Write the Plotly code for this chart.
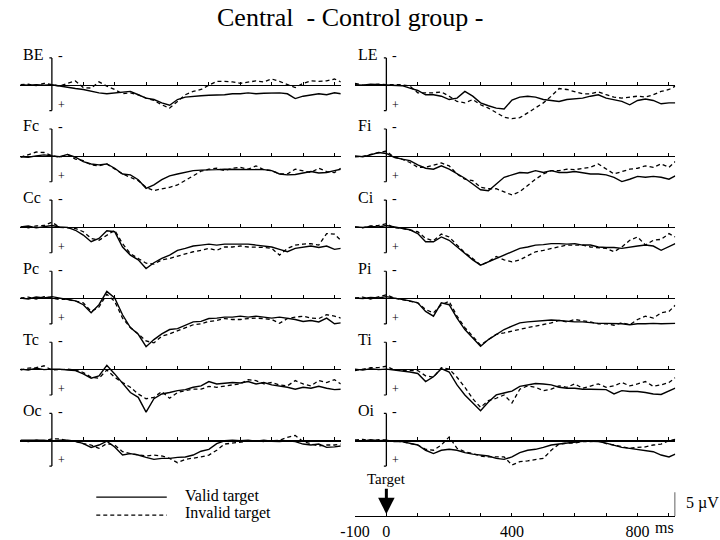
import plotly.graph_objects as go

# ---------------- data (µV, positive plotted downward) ----------------
times = list(range(-100, 901, 25)) + [920]

left_labels = ["BE", "Fc", "Cc", "Pc", "Tc", "Oc"]
right_labels = ["LE", "Fi", "Ci", "Pi", "Ti", "Oi"]

be_valid = [0,0.1,0,0.1,0,0.3,0.6,0.8,1.0,1.4,1.7,1.9,1.7,1.5,1.4,2.1,2.8,3.1,3.8,4.3,3.1,2.6,2.4,2.3,2.2,2.2,2.1,1.9,1.9,1.7,1.9,1.8,1.7,1.7,1.9,2.9,2.4,2.2,1.9,2.1,1.7,1.9]
be_invalid = [0,-0.1,0.2,-0.3,0,0.3,-0.3,-0.8,0.6,0.7,-0.6,0.3,1.0,1.9,1.7,2.1,2.8,3.3,4.2,4.9,3.5,2.1,1.4,1.0,0.1,-0.7,-0.7,-0.6,-0.3,-0.6,-0.8,-0.6,-1.2,-0.7,0,0.6,-0.3,-0.8,-0.7,-0.8,-1.2,-0.6]
fc_valid = [0.2,0.3,0,-0.2,0,0.2,-0.3,0.3,1.2,1.7,1.9,1.7,2.6,3.8,4.0,5.0,6.8,6.1,5.0,4.2,3.8,3.5,3.1,3.0,3.0,2.9,2.8,2.8,2.8,2.9,2.9,2.9,3.1,3.8,4.0,3.9,3.6,3.3,3.6,3.5,3.1,2.8]
fc_invalid = [0.3,-0.2,-0.8,-0.7,0,0.3,-0.3,0.7,1.0,1.9,2.1,1.7,2.8,3.8,4.5,5.2,6.6,7.3,6.9,6.6,6.1,5.2,4.2,3.2,2.8,2.6,3.1,2.6,2.4,2.8,2.1,2.9,3.1,3.8,3.8,2.8,3.1,3.5,2.6,3.3,3.5,2.6]
cc_valid = [0,-0.2,0.2,0,-0.3,0,0.1,0.7,1.7,3.1,2.4,0.8,1.0,4.2,5.9,6.9,8.7,7.5,6.6,5.9,4.9,4.5,4.0,3.8,3.6,3.8,3.6,3.6,3.6,3.6,3.8,4.0,4.2,4.7,5.2,4.5,4.3,4.0,4.3,4.0,4.7,4.5]
cc_invalid = [0,0.2,-0.2,-0.3,-1.0,0.1,0.2,0.3,1.0,2.4,2.8,1.7,0.7,3.5,5.6,6.6,7.6,7.8,6.9,6.6,6.1,5.6,5.2,4.9,4.5,4.9,4.2,4.2,4.0,4.2,4.2,4.3,4.5,5.9,4.5,3.8,3.6,3.5,3.8,1.4,1.5,2.8]
pc_valid = [0,0.2,-0.2,0,-0.3,0,0.2,0.6,1.4,3.1,1.4,-1.4,0,3.5,6.2,7.6,10.2,8.7,7.5,6.6,6.4,5.7,5.0,4.9,4.3,4.2,4.0,4.0,3.8,4.0,3.8,4.0,4.2,4.0,4.2,4.5,4.9,4.7,5.0,4.2,5.4,5.2]
pc_invalid = [0,-0.2,0.2,-0.3,0,0.3,0.3,0.6,1.0,2.8,1.9,-0.8,0.7,4.2,6.2,7.5,9.0,9.4,8.0,7.5,6.9,6.2,5.6,5.4,4.9,4.7,4.3,4.5,4.5,4.3,4.2,4.3,4.5,5.3,4.3,4.0,3.8,4.2,4.3,3.5,3.8,4.2]
tc_valid = [0,0.2,-0.2,0.1,0,0,0.2,0.3,1.0,1.9,1.4,-0.8,1.0,3.0,4.9,5.9,9.0,6.2,5.2,4.9,4.5,4.3,3.8,3.5,2.6,3.1,2.9,2.8,2.9,2.6,3.1,2.8,3.3,3.5,3.8,4.2,3.8,4.0,3.6,4.0,4.3,4.2]
tc_invalid = [0.2,-0.2,-0.3,-0.7,0.2,0.1,0,0.2,0.7,1.7,1.9,0.2,1.7,2.8,3.8,5.2,6.2,5.9,4.7,6.1,4.9,4.5,4.2,4.2,3.6,3.8,3.5,3.3,3.1,2.2,2.4,3.1,2.8,3.3,3.5,2.4,3.1,3.5,2.4,2.8,2.2,3.1]
oc_valid = [0,0,0.1,0,0.2,0,0,0.2,0.7,1.5,1.0,0.2,1.4,3.1,2.8,3.1,3.6,4.0,3.8,3.8,3.6,3.5,3.1,2.3,1.9,0.7,0.1,0,0.1,0,0.2,0,0.2,0.3,0.1,0.3,0.8,1.0,0.8,1.5,1.4,1.2]
oc_invalid = [0.2,0.3,0,0.2,-0.3,-0.3,0.1,0.3,0.7,1.0,1.7,0.7,1.0,2.4,2.8,3.1,3.3,3.1,3.3,3.8,4.7,4.0,3.8,3.5,3.1,2.1,0.8,0.6,0.3,0.2,0.1,0.3,0.1,0,-0.6,-1.0,0.3,0.8,1.2,1.0,1.0,0.8]

le_valid = [0,0.1,-0.1,0,0,0.1,0.2,0.7,1.2,2.1,2.1,2.4,3.1,2.8,1.4,2.4,3.8,4.4,4.9,5.1,3.2,2.6,2.4,2.6,3.1,3.3,3.5,3.1,3.0,2.8,2.4,2.1,2.8,3.1,3.5,4.2,3.3,3.0,3.3,4.0,3.8,3.8]
le_invalid = [-0.3,0.1,0,-0.1,0,0,0,0.3,1.7,1.7,1.7,1.5,2.4,3.5,3.8,3.1,4.2,4.9,5.9,6.8,7.1,6.9,5.9,4.9,3.8,2.4,0.8,1.0,1.5,1.9,1.9,1.5,2.1,2.6,2.8,2.6,2.4,2.6,2.1,1.4,1.0,0.3]
fi_valid = [0,0.2,-0.2,-0.7,-0.5,0.3,0.7,1.0,1.9,2.6,2.8,2.1,2.8,3.8,4.7,5.9,7.1,7.3,5.9,4.5,4.0,3.5,3.6,3.1,3.5,3.1,3.5,3.5,3.3,3.6,3.8,3.8,4.0,4.5,5.4,4.9,4.3,4.5,4.3,4.5,4.9,4.2]
fi_invalid = [0.2,0.1,-0.3,-0.6,-1.0,0.3,0.7,1.4,2.4,2.4,1.9,1.5,2.1,3.8,4.9,5.2,6.6,6.9,6.9,7.6,8.2,7.5,6.2,4.9,3.8,3.1,3.1,2.8,2.9,2.6,2.4,1.7,2.8,3.8,3.3,2.8,2.6,2.1,2.4,1.7,2.4,1.2]
ci_valid = [0,0.1,-0.1,0,-0.3,0,0.2,0.6,1.4,3.1,3.1,2.1,2.8,4.2,5.6,6.9,8.0,7.3,6.6,5.9,5.2,4.5,4.2,3.8,3.7,3.5,3.5,3.6,3.5,3.8,3.8,4.2,4.3,4.3,4.5,4.2,4.0,3.8,4.0,4.9,4.2,3.5]
ci_invalid = [0,0.2,-0.2,-0.3,-0.7,0.2,0.3,0.7,1.0,2.4,2.9,1.5,2.1,3.8,5.4,6.6,8.0,7.3,6.2,6.9,7.3,6.9,6.1,5.2,4.9,4.5,4.2,3.8,3.8,3.8,4.2,4.3,4.5,5.2,4.2,2.8,2.1,3.8,2.8,2.6,1.4,2.1]
pi_valid = [0,0.1,-0.1,0,-0.3,0,0.2,0.6,1.0,2.8,3.8,1.0,1.4,4.2,6.6,8.3,10.1,8.7,7.6,6.6,5.9,5.2,5.0,4.9,4.7,4.6,4.7,4.9,5.0,5.0,5.2,5.3,5.3,5.3,5.4,5.6,5.4,5.4,5.3,5.4,5.4,5.3]
pi_invalid = [0,-0.2,0.2,-0.3,-0.7,0,0.3,0.7,1.0,2.4,3.1,1.4,0.7,3.8,6.2,8.0,9.9,8.7,7.6,7.3,6.9,6.6,6.2,5.9,5.6,5.2,4.7,5.0,4.5,4.7,5.0,5.4,5.4,5.7,5.2,5.6,4.5,3.8,4.2,3.1,2.8,1.5]
ti_valid = [0,0.2,-0.1,0.1,0,0.2,0.3,0.6,0.9,2.6,1.6,-0.1,0.6,3.3,5.4,7.1,8.7,6.9,5.4,5.0,4.6,3.6,3.3,3.0,3.1,3.3,3.8,4.0,4.0,4.2,4.2,4.2,4.3,5.2,4.5,4.7,4.7,4.9,5.2,5.3,4.5,4.0]
ti_invalid = [0.3,0,-0.3,-0.3,-0.6,0.2,0.2,0.3,0.3,1.4,1.7,-0.3,0,1.7,3.8,6.2,8.0,6.6,6.1,5.4,7.1,4.2,3.5,3.8,4.5,4.2,3.5,3.8,3.1,4.0,3.5,3.1,3.8,3.5,2.8,3.5,3.1,2.6,3.6,3.3,2.8,1.8]
oi_valid = [0,0.2,-0.1,0.1,0,0.3,0.3,0.7,1.0,2.1,2.8,2.1,1.9,2.1,2.6,2.9,3.1,3.3,3.8,4.0,3.5,2.6,2.1,1.9,1.5,1.0,0.8,0.6,0.3,0.2,0.2,0.3,0.6,1.0,1.5,1.7,1.9,2.2,2.4,3.1,3.5,2.9]
oi_invalid = [0,-0.2,0.1,-0.1,0,0.2,0.3,0.7,1.0,1.9,2.1,1.0,-0.7,1.7,2.4,2.8,3.3,3.5,3.5,3.5,5.2,4.5,4.3,4.0,3.8,2.1,0.8,0.6,0.6,0.3,0.3,0.1,0.7,1.0,1.4,1.7,1.5,1.4,1.0,0.8,0.1,-0.2]

left_valid = [be_valid, fc_valid, cc_valid, pc_valid, tc_valid, oc_valid]
left_invalid = [be_invalid, fc_invalid, cc_invalid, pc_invalid, tc_invalid, oc_invalid]
right_valid = [le_valid, fi_valid, ci_valid, pi_valid, ti_valid, oi_valid]
right_invalid = [le_invalid, fi_invalid, ci_invalid, pi_invalid, ti_invalid, oi_invalid]

time_ticks = list(range(100, 901, 100))
axis_ticks = list(range(-100, 901, 100))
axis_ticktext = ["-100", "0", "", "", "", "400", "", "", "", "800", ""]
scale_uv = 5

# ---------------- layout geometry ----------------
W, H = 720, 540
PX_PER_UV = 4.8
FONT = "Liberation Serif"
col_dom = [(5.6, 332.7), (347.2, 674.3)]
baselines = [85.2 + 71.5 * i for i in range(6)]
UP, DOWN = 36, 54   # px above / below baseline covered by each panel

fig = go.Figure()
layout = dict(width=W, height=H, margin=dict(l=0, r=0, t=0, b=0),
              paper_bgcolor="white", plot_bgcolor="rgba(0,0,0,0)",
              showlegend=False, font=dict(family=FONT, color="black"))
shapes, annos = [], []

def py(p):
    return 1 - p / H

n = 0
for c, (labels, vals, invs) in enumerate([(left_labels, left_valid, left_invalid),
                                           (right_labels, right_valid, right_invalid)]):
    x0, x1 = col_dom[c]
    for r in range(6):
        n += 1
        b = baselines[r]
        xa, ya = f"x{n}", f"y{n}"
        layout[f"xaxis{n}"] = dict(domain=[x0 / W, x1 / W], range=[-100, 920], anchor="free",
                                   position=py(b), showline=True, linecolor="black", linewidth=1.3,
                                   ticks="inside", ticklen=3, tickwidth=1, tickcolor="black",
                                   tickvals=time_ticks, showticklabels=False, showgrid=False,
                                   zeroline=False, fixedrange=True)
        layout[f"yaxis{n}"] = dict(domain=[py(b + DOWN), py(b - UP)],
                                   range=[DOWN / PX_PER_UV, -UP / PX_PER_UV], anchor=xa,
                                   visible=False, showgrid=False, zeroline=False, fixedrange=True)
        fig.add_trace(go.Scatter(x=times, y=vals[r], xaxis=xa, yaxis=ya, mode="lines",
                                 line=dict(color="black", width=1.4), hoverinfo="skip"))
        fig.add_trace(go.Scatter(x=times, y=invs[r], xaxis=xa, yaxis=ya, mode="lines",
                                 line=dict(color="black", width=1.3, dash="4px,3px"),
                                 hoverinfo="skip"))
        top, bot = -27 / PX_PER_UV, 26 / PX_PER_UV
        shapes.append(dict(type="line", xref=xa, yref=ya, x0=0, x1=0, y0=top, y1=bot,
                           line=dict(color="black", width=1.3)))
        for yy in (top, bot):
            shapes.append(dict(type="line", xref=xa, yref=ya, x0=-8, x1=0, y0=yy, y1=yy,
                               line=dict(color="black", width=1.1)))
        annos.append(dict(text=labels[r], xref=xa, yref=ya, x=-97, y=-30 / PX_PER_UV,
                          xanchor="left", yanchor="middle", showarrow=False,
                          font=dict(family=FONT, size=16)))
        annos.append(dict(text="-", xref=xa, yref=ya, x=13, y=-29 / PX_PER_UV,
                          xanchor="left", yanchor="middle", showarrow=False,
                          font=dict(family=FONT, size=14)))
        annos.append(dict(text="+", xref=xa, yref=ya, x=12, y=20 / PX_PER_UV,
                          xanchor="left", yanchor="middle", showarrow=False,
                          font=dict(family=FONT, size=12)))

# time axis
n += 1
ax_y = 519
layout[f"xaxis{n}"] = dict(domain=[col_dom[1][0] / W, col_dom[1][1] / W], range=[-100, 920],
                           anchor="free", position=py(ax_y), showline=True, linecolor="black",
                           linewidth=1.3, ticks="inside", ticklen=3, tickcolor="black",
                           tickvals=axis_ticks, ticktext=axis_ticktext, showgrid=False,
                           zeroline=False, tickfont=dict(family=FONT, size=16), fixedrange=True)
layout[f"yaxis{n}"] = dict(domain=[py(ax_y), py(ax_y - 40)], range=[0, 40 / PX_PER_UV],
                           anchor=f"x{n}", visible=False, fixedrange=True)
fig.add_trace(go.Scatter(x=[None], y=[None], xaxis=f"x{n}", yaxis=f"y{n}", mode="lines",
                         hoverinfo="skip"))
annos.append(dict(text="ms", xref=f"x{n}", yref="paper", x=800, y=py(530),
                  xanchor="left", yanchor="middle", showarrow=False,
                  font=dict(family=FONT, size=16), xshift=15))
annos.append(dict(text="Target", xref=f"x{n}", yref="paper", x=0, y=py(ax_y - 2),
                  ax=0, ay=-35, showarrow=True, arrowhead=2, arrowsize=1.1, arrowwidth=3,
                  arrowcolor="black", font=dict(family=FONT, size=15)))
# 5 µV scale bar
shapes.append(dict(type="line", xref=f"x{n}", yref=f"y{n}", x0=920, x1=920, y0=0, y1=scale_uv,
                   line=dict(color="black", width=1.3)))
annos.append(dict(text="5 µV", xref="paper", yref="paper", x=683 / W, y=py(506),
                  xanchor="left", yanchor="middle", showarrow=False,
                  font=dict(family=FONT, size=16)))

# legend
shapes.append(dict(type="line", xref="paper", yref="paper", x0=83 / W, x1=155 / W,
                   y0=py(500), y1=py(500), line=dict(color="black", width=1.3)))
shapes.append(dict(type="line", xref="paper", yref="paper", x0=83 / W, x1=155 / W,
                   y0=py(518), y1=py(518), line=dict(color="black", width=1.2, dash="4px,3px")))
annos.append(dict(text="Valid target", xref="paper", yref="paper", x=172 / W, y=py(499),
                  xanchor="left", yanchor="middle", showarrow=False,
                  font=dict(family=FONT, size=16)))
annos.append(dict(text="Invalid target", xref="paper", yref="paper", x=172 / W, y=py(516),
                  xanchor="left", yanchor="middle", showarrow=False,
                  font=dict(family=FONT, size=16)))

# title
annos.append(dict(text="Central\u00a0 - Control group -", xref="paper", yref="paper",
                  x=342 / W, y=py(18), xanchor="center", yanchor="middle", showarrow=False,
                  font=dict(family=FONT, size=26)))

layout["shapes"] = shapes
layout["annotations"] = annos
fig.update_layout(**layout)
fig.write_html("out.html", config={"displayModeBar": False, "staticPlot": True},
               post_script="document.body.style.margin='0px';")
